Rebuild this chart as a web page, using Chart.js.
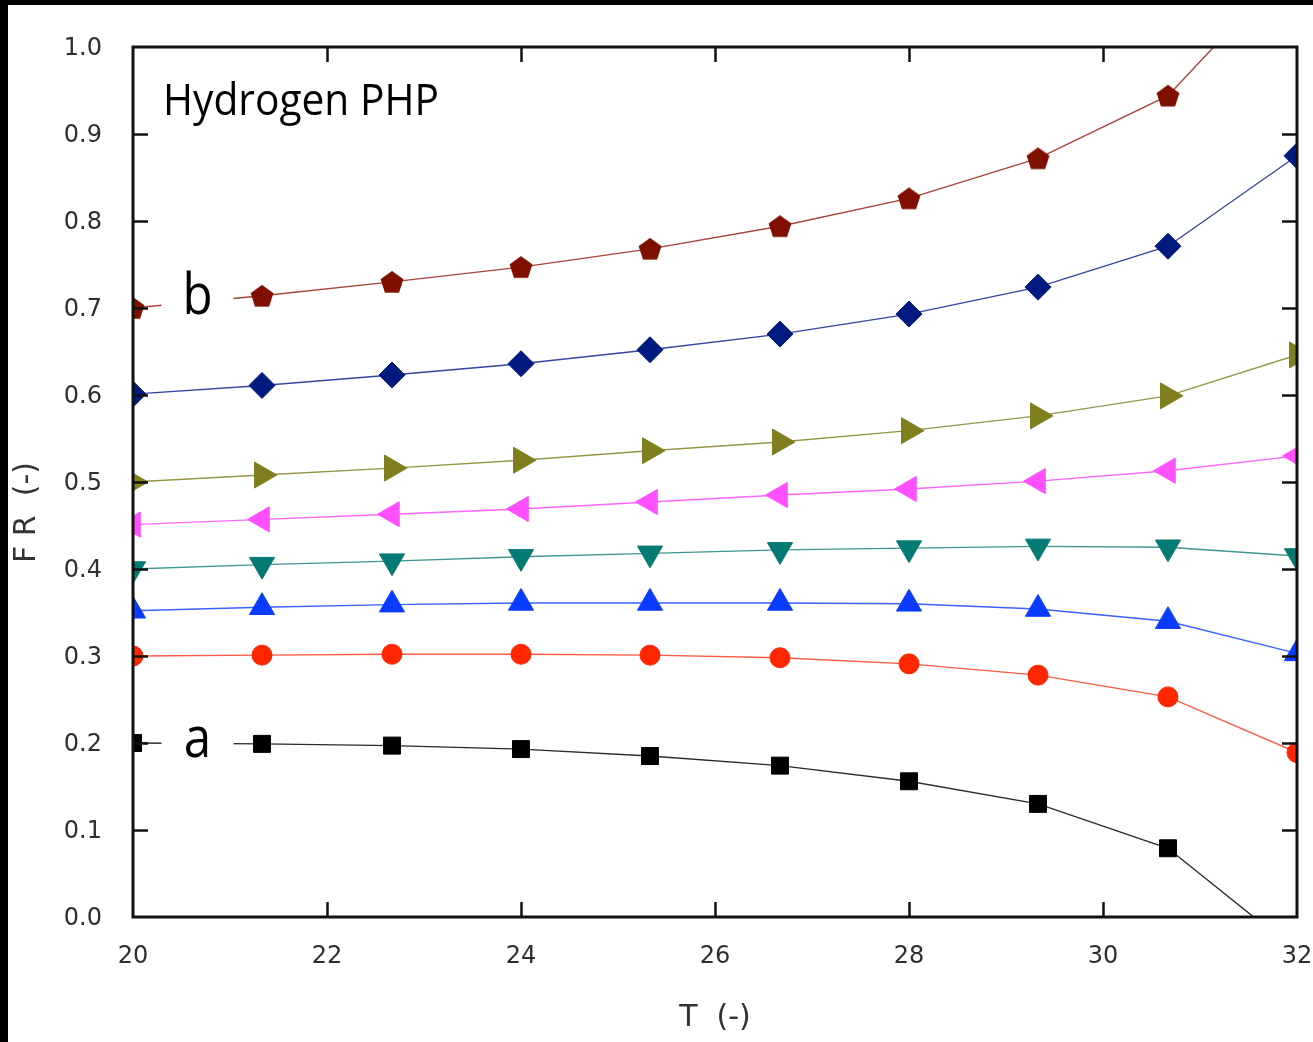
<!DOCTYPE html>
<html><head><meta charset="utf-8">
<script src="https://cdn.jsdelivr.net/npm/chart.js@4/dist/chart.umd.min.js"></script>
<style>
html,body{margin:0;padding:0;background:#000;overflow:hidden;}
#wrap{position:absolute;left:8px;top:5px;width:1305px;height:1037px;background:#fff;}
canvas{display:block;}
</style></head><body>
<div id="wrap"><canvas id="c" width="1305" height="1037"></canvas></div>
<script>
// ---- data ----
const temperatures = [20, 21.33, 22.67, 24, 25.33, 26.67, 28, 29.33, 30.67, 32];
const tTicks  = [20, 22, 24, 26, 28, 30, 32];
const frTicks = [0.0, 0.1, 0.2, 0.3, 0.4, 0.5, 0.6, 0.7, 0.8, 0.9, 1.0];
const frB       = [0.700, 0.714, 0.730, 0.747, 0.768, 0.794, 0.826, 0.872, 0.944, 1.102];
const frNavy    = [0.601, 0.611, 0.623, 0.636, 0.652, 0.670, 0.693, 0.724, 0.771, 0.875];
const frOlive   = [0.500, 0.508, 0.516, 0.525, 0.536, 0.546, 0.559, 0.576, 0.599, 0.646];
const frMagenta = [0.451, 0.457, 0.463, 0.469, 0.477, 0.485, 0.492, 0.501, 0.513, 0.530];
const frTeal    = [0.400, 0.405, 0.409, 0.414, 0.418, 0.422, 0.424, 0.426, 0.425, 0.415];
const frBlue    = [0.352, 0.356, 0.359, 0.361, 0.361, 0.361, 0.360, 0.354, 0.340, 0.303];
const frRed     = [0.300, 0.301, 0.302, 0.302, 0.301, 0.298, 0.291, 0.278, 0.253, 0.189];
const frA       = [0.200, 0.199, 0.197, 0.193, 0.185, 0.174, 0.156, 0.130, 0.079, -0.040];
const plotTitle = 'Hydrogen PHP';
const xTitle = 'T  (-)';
const yTitle = 'F R  (-)';

function pentagon(color, r) {
  const s = Math.ceil(2 * r + 2);
  const c = document.createElement('canvas');
  c.width = s; c.height = s;
  const g = c.getContext('2d');
  g.fillStyle = color;
  g.beginPath();
  for (let i = 0; i < 5; i++) {
    const a = -Math.PI / 2 + i * 2 * Math.PI / 5;
    const px = s / 2 + r * Math.cos(a), py = s / 2 + 1 + r * Math.sin(a);
    i ? g.lineTo(px, py) : g.moveTo(px, py);
  }
  g.closePath(); g.fill();
  return c;
}

function series(label, vals, color, lineColor, style, radius, rotation) {
  return {
    label,
    data: temperatures.map((t, i) => ({x: t, y: vals[i]})),
    borderColor: lineColor,
    backgroundColor: color,
    pointBackgroundColor: color,
    pointBorderColor: color,
    pointBorderWidth: 1,
    borderWidth: 1.4,
    pointStyle: style,
    pointRadius: radius,
    pointRotation: rotation || 0,
    tension: 0,
    clip: 0
  };
}

const datasets = [
  series('b', frB, '#7f1000', '#a8443a', pentagon('#7f1000', 12), 12.5),
  series('navy', frNavy, '#001a80', '#3346a0', 'rectRot', 13),
  series('olive', frOlive, '#7f7f20', '#96964a', 'triangle', 15, 90),
  series('magenta', frMagenta, '#ff50ff', '#ff66ff', 'triangle', 14.5, -90),
  series('teal', frTeal, '#047a74', '#3f9690', 'triangle', 14.5, 180),
  series('blue', frBlue, '#0a3cff', '#3a62ff', 'triangle', 14.5, 0),
  series('red', frRed, '#ff2600', '#ff5a44', 'circle', 10),
  series('a', frA, '#000000', '#2a2a2a', 'rect', 12)
];

const framePlugin = {
  id: 'frame',
  afterDatasetsDraw(chart) {
    const {ctx, chartArea: a, scales: {x, y}} = chart;
    ctx.save();
    // curve labels a / b with white background breaking the line
    function curveLabel(txt, vals, dy) {
      const tx = (temperatures[0] + temperatures[1]) / 2;
      const px = x.getPixelForValue(tx);
      const py = y.getPixelForValue((vals[0] + vals[1]) / 2);
      ctx.fillStyle = '#fff';
      ctx.fillRect(px - 36, py - 12, 72, 24);
      ctx.fillStyle = '#000';
      ctx.font = '56px "Open Sans"';
      ctx.textAlign = 'center';
      ctx.textBaseline = 'alphabetic';
      ctx.save();
      ctx.translate(px, py + dy);
      ctx.scale(0.88, 1);
      ctx.fillText(txt, 0, 0);
      ctx.restore();
    }
    curveLabel('b', frB, 12);
    curveLabel('a', frA, 14);
    // plot title text
    ctx.fillStyle = '#000';
    ctx.font = '44px "Open Sans"';
    ctx.textAlign = 'left';
    ctx.textBaseline = 'alphabetic';
    ctx.save();
    ctx.translate(a.left + 30, a.top + 68);
    ctx.scale(0.925, 1);
    ctx.fillText(plotTitle, 0, 0);
    ctx.restore();
    // y axis title
    ctx.save();
    ctx.fillStyle = '#333';
    ctx.font = '30px "DejaVu Sans"';
    ctx.textAlign = 'center';
    ctx.textBaseline = 'middle';
    ctx.translate(19, y.getPixelForValue(0.465));
    ctx.rotate(-Math.PI / 2);
    ctx.fillText(yTitle, 0, 0);
    ctx.restore();
    // inward ticks
    ctx.strokeStyle = '#111';
    ctx.lineWidth = 2.5;
    ctx.beginPath();
    frTicks.slice(1, -1).forEach(v => {
      const py = Math.round(y.getPixelForValue(v)) + 0.5;
      ctx.moveTo(a.left, py); ctx.lineTo(a.left + 15, py);
      ctx.moveTo(a.right, py); ctx.lineTo(a.right - 15, py);
    });
    tTicks.slice(1, -1).forEach(v => {
      const px = Math.round(x.getPixelForValue(v)) + 0.5;
      ctx.moveTo(px, a.bottom); ctx.lineTo(px, a.bottom - 15);
      ctx.moveTo(px, a.top); ctx.lineTo(px, a.top + 15);
    });
    ctx.stroke();
    ctx.lineWidth = 3;
    ctx.strokeRect(a.left, a.top, a.right - a.left, a.bottom - a.top);
    ctx.restore();
  }
};

new Chart(document.getElementById('c'), {
  type: 'line',
  data: {datasets},
  options: {
    responsive: false,
    animation: false,
    layout: {padding: {top: 42, right: 11, left: 0, bottom: 0}},
    plugins: {legend: {display: false}, tooltip: {enabled: false}},
    scales: {
      x: {
        type: 'linear', min: 20, max: 32,
        afterBuildTicks: s => { s.ticks = tTicks.map(v => ({value: v})); },
        afterFit: s => { s.height = 125; s.paddingLeft = 0; s.paddingRight = 0; },
        grid: {display: false},
        border: {display: false},
        ticks: {padding: 17, color: '#2e2e2e', font: {family: 'DejaVu Sans', size: 24}, maxRotation: 0, autoSkip: false,
                callback: v => String(v)},
        title: {display: true, text: xTitle, color: '#333', font: {family: 'DejaVu Sans', size: 30}, padding: {top: 0, bottom: 6}}
      },
      y: {
        type: 'linear', min: 0, max: 1,
        afterBuildTicks: s => { s.ticks = frTicks.map(v => ({value: v})); },
        afterFit: s => { s.width = 125; s.paddingTop = 0; s.paddingBottom = 0; },
        grid: {display: false},
        border: {display: false},
        ticks: {padding: 23, labelOffset: 2, color: '#2e2e2e', font: {family: 'DejaVu Sans', size: 24}, autoSkip: false,
                callback: v => Number(v).toFixed(1)},
        title: {display: false}
      }
    }
  },
  plugins: [framePlugin]
});
</script>
</body></html>
